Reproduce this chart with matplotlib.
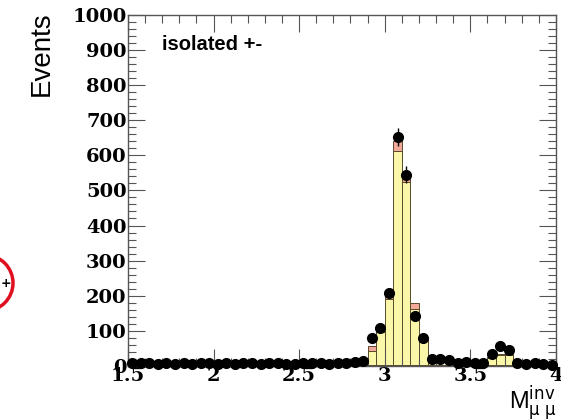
import numpy as np
import matplotlib
matplotlib.use("Agg")
import matplotlib.pyplot as plt
from matplotlib.patches import Circle
from matplotlib.ticker import MultipleLocator

# 50 bins of 0.05 GeV between 1.5 and 4.0
bin_edges = np.linspace(1.5, 4.0, 51)

data_counts = [8, 9, 7, 6, 8, 5, 7, 6, 9, 7,
               6, 8, 5, 7, 9, 6, 8, 7, 5, 6,
               8, 7, 9, 6, 7, 8, 10, 14, 80, 108,
               207, 652, 545, 143, 78, 20, 20, 16, 8, 10,
               7, 9, 35, 56, 45, 8, 6, 7, 5, 3]

mc_bkg = [2, 2, 2, 2, 2, 2, 2, 2, 2, 2,
          2, 2, 2, 2, 2, 2, 2, 2, 2, 2,
          2, 2, 2, 2, 2, 2, 2, 2, 2, 2,
          2, 2, 2, 2, 2, 2, 2, 2, 2, 2,
          2, 2, 2, 2, 2, 2, 2, 2, 2, 2]

mc_jpsi = [0, 0, 0, 0, 0, 0, 0, 0, 0, 0,
           0, 0, 0, 0, 0, 0, 0, 0, 0, 0,
           0, 0, 0, 0, 0, 0, 0, 2, 40, 93,
           188, 610, 523, 161, 70, 13, 0, 0, 0, 0,
           0, 0, 20, 30, 28, 0, 0, 0, 0, 0]

mc_other = [0, 0, 0, 0, 0, 0, 0, 0, 0, 0,
            0, 0, 0, 0, 0, 0, 0, 0, 0, 0,
            0, 0, 0, 0, 0, 0, 0, 0, 13, 5,
            5, 28, 12, 17, 4, 2, 0, 0, 0, 0,
            0, 0, 3, 3, 3, 0, 0, 0, 0, 0]

x_ticks = [1.5, 2, 2.5, 3, 3.5, 4]
x_ticklabels = ["1.5", "2", "2.5", "3", "3.5", "4"]

fig = plt.figure(figsize=(5.61, 4.19), dpi=100)
ax = fig.add_axes([0.228, 0.127, 0.763, 0.837])

left = bin_edges[:-1]
width = np.diff(bin_edges)
bottom = np.zeros(len(left))
for vals, col in [(mc_bkg, "#9fd98f"), (mc_jpsi, "#fbf7a8"), (mc_other, "#f3a999")]:
    vals = np.array(vals, dtype=float)
    ax.bar(left, vals, width=width, bottom=bottom, align="edge",
           color=col, edgecolor="#5a4a2a", linewidth=0.7)
    bottom += vals

centers = 0.5 * (bin_edges[:-1] + bin_edges[1:])
counts = np.array(data_counts, dtype=float)
ax.errorbar(centers, counts, yerr=np.sqrt(counts), fmt="o", color="black",
            markersize=7, elinewidth=1, capsize=0, zorder=5, clip_on=False)

ax.set_xlim(1.5, 4.0)
ax.set_ylim(0, 1000)
ax.xaxis.set_minor_locator(MultipleLocator(0.1))
ax.yaxis.set_major_locator(MultipleLocator(100))
ax.yaxis.set_minor_locator(MultipleLocator(20))
ax.tick_params(which="both", direction="in", top=True, right=True,
               color="#555555", width=0.8)
ax.tick_params(which="major", length=12)
ax.tick_params(which="minor", length=6)
ax.tick_params(axis="both", labelsize=14, pad=1)
ax.set_xticks(x_ticks)
ax.set_xticklabels(x_ticklabels)
for lab in ax.get_xticklabels() + ax.get_yticklabels():
    lab.set_family("DejaVu Serif")
    lab.set_weight("bold")
for sp in ax.spines.values():
    sp.set_color("#555555")
    sp.set_linewidth(1.0)

ax.text(0.08, 0.917, "isolated +-", transform=ax.transAxes, fontsize=14.5,
        fontweight="bold", family="Liberation Sans", va="center", ha="left")

fig.text(0.074, 0.972, "Events", rotation=90, fontsize=20, family="Liberation Sans",
         ha="center", va="top")
fig.text(0.992, 0.022, r"M$^{\rm inv}_{\rm μ\ μ}$", fontsize=17,
         family="Liberation Sans", ha="right", va="baseline")

# marker circle at the left margin
fig.patches.append(Circle((-15, 419 - 283), 28, transform=None, fill=False,
                          edgecolor="#e01020", linewidth=2.5))
fig.text(6 / 561, 1 - 283 / 419, "+", fontsize=9, fontweight="bold",
         ha="center", va="center")

fig.savefig("out.png", dpi=100)
